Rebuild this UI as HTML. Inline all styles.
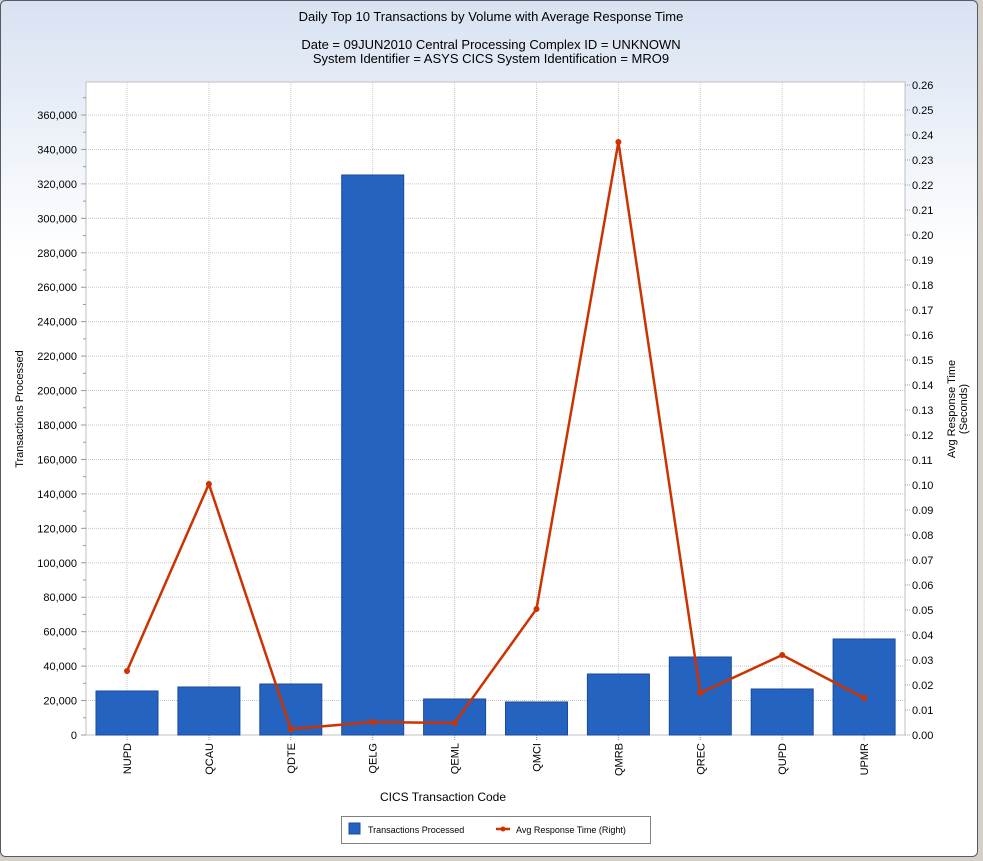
<!DOCTYPE html>
<html><head><meta charset="utf-8"><style>
html,body{margin:0;padding:0;background:#d4d0c8;}
svg{display:block;font-family:"Liberation Sans",sans-serif;}
</style></head><body>
<svg id="s" width="983" height="861" xmlns="http://www.w3.org/2000/svg">
<defs><linearGradient id="bg" x1="0" y1="0" x2="0" y2="1">
<stop offset="0" stop-color="#d8e2f2"/><stop offset="0.3" stop-color="#ffffff"/><stop offset="1" stop-color="#ffffff"/></linearGradient></defs>
<rect x="0" y="0" width="983" height="861" fill="#d4d0c8"/>
<rect x="0.5" y="0.5" width="977" height="856" rx="5" fill="url(#bg)" stroke="#555b66"/>
<text x="491" y="21" font-size="13" text-anchor="middle">Daily Top 10 Transactions by Volume with Average Response Time</text>
<text x="491" y="49" font-size="13" text-anchor="middle">Date = 09JUN2010  Central Processing Complex ID = UNKNOWN</text>
<text x="491" y="63" font-size="13" text-anchor="middle">System Identifier = ASYS  CICS System Identification = MRO9</text>
<rect x="86" y="82" width="819" height="653" fill="#fff" stroke="#c0c0c0"/>
<g id="g"></g>
<text x="443" y="801" font-size="12" text-anchor="middle">CICS Transaction Code</text>
<text transform="translate(23,409) rotate(-90)" font-size="11" text-anchor="middle">Transactions Processed</text>
<text transform="translate(955,409) rotate(-90)" font-size="11" text-anchor="middle">Avg Response Time</text>
<text transform="translate(967,409) rotate(-90)" font-size="11" text-anchor="middle">(Seconds)</text>
<rect x="341.5" y="816.5" width="309" height="27" fill="#fff" stroke="#808080"/>
<rect x="349" y="823" width="11" height="11" fill="#2563c0" stroke="#1a4a9a"/>
<text x="368" y="833" font-size="9">Transactions Processed</text>
<line x1="496" y1="829" x2="510" y2="829" stroke="#cc3300" stroke-width="2.5"/>
<circle cx="503" cy="829" r="2.5" fill="#cc3300"/>
<text x="516" y="833" font-size="9">Avg Response Time (Right)</text>
</svg>
<script>
var g=document.getElementById('g'),h='';
var L=86,R=905,B=735;
function ly(v){return B-v/20000*34.444;}
function ry(v){return B-v*2500;}
for(var v=0;v<=360000;v+=20000){var y=ly(v);
 if(v>0)h+='<line x1="'+L+'" x2="'+R+'" y1="'+y+'" y2="'+y+'" stroke="#c8c8c8" stroke-dasharray="1,1"/>';
 h+='<line x1="'+(L-5)+'" x2="'+L+'" y1="'+y+'" y2="'+y+'" stroke="#999"/>';
 h+='<text x="77" y="'+(y+4)+'" font-size="11" text-anchor="end">'+v.toLocaleString('en-US')+'</text>';
 var m=ly(v+10000); if(m>82)h+='<line x1="'+(L-3)+'" x2="'+L+'" y1="'+m+'" y2="'+m+'" stroke="#999"/>';}
for(var i=0;i<=26;i++){var y=ry(i/100);
 h+='<line x1="'+R+'" x2="'+(R+5)+'" y1="'+y+'" y2="'+y+'" stroke="#999" stroke-dasharray="1,1"/>';
 h+='<text x="912" y="'+(y+4)+'" font-size="11">'+(i/100).toFixed(2)+'</text>';}
var n=['NUPD','QCAU','QDTE','QELG','QEML','QMCI','QMRB','QREC','QUPD','UPMR'];
var bt=[691,687,684,175,699,702,674,657,689,639];
var ln=[671,484,729,722,723,609,142,693,655,698];
var pts=[];
for(var i=0;i<10;i++){var x=127+i*81.9;
 h+='<line x1="'+x+'" x2="'+x+'" y1="82" y2="'+B+'" stroke="#c8c8c8" stroke-dasharray="1,1"/>';
 h+='<line x1="'+x+'" x2="'+x+'" y1="'+B+'" y2="'+(B+5)+'" stroke="#999" stroke-dasharray="1,1"/>';
 h+='<rect x="'+(x-31)+'" y="'+bt[i]+'" width="62" height="'+(B-bt[i])+'" fill="#2563c0" stroke="#1a4a9a"/>';
 h+='<text transform="translate('+(x+4)+',743) rotate(-90)" font-size="11" text-anchor="end">'+n[i]+'</text>';
 pts.push(x+','+ln[i]);}
h+='<polyline points="'+pts.join(' ')+'" fill="none" stroke="#cc3300" stroke-width="2.5"/>';
for(var i=0;i<10;i++){var p=pts[i].split(',');h+='<circle cx="'+p[0]+'" cy="'+p[1]+'" r="3" fill="#cc3300"/>';}
g.innerHTML=h;
</script>
</body></html>
